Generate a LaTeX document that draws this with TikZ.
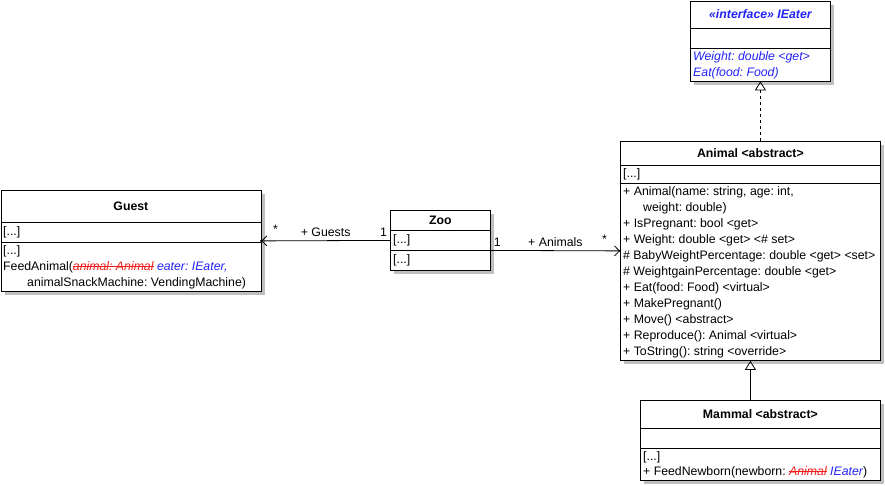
\documentclass[tikz,border=0pt]{standalone}
\usepackage{fontspec}
\setmainfont{Liberation Sans}
\usetikzlibrary{arrows.meta,shadows}
\definecolor{ifblue}{RGB}{35,35,245}
\definecolor{oldred}{RGB}{240,30,30}
\newcommand{\umlfont}{\fontsize{12.3}{16}\selectfont\frenchspacing}
\tikzset{
  cls/.style={draw, line width=0.8pt, fill=white, anchor=north west, inner sep=0pt,
    drop shadow={shadow xshift=4pt, shadow yshift=-4pt, fill=black!25, opacity=1}},
  row/.style={anchor=west, inner sep=0pt, font=\umlfont},
  title/.style={font=\umlfont\bfseries},
  lbl/.style={font=\umlfont, inner sep=0pt},
  assoc/.style={line width=0.8pt, -{Straight Barb[length=5pt,width=10pt]}},
  inherit/.style={line width=0.8pt, -{Triangle[open,length=9pt,width=11pt]}},
}
\newcommand{\old}[1]{{\color{oldred}\itshape\setbox0\hbox{#1}\rlap{\rule[0.3em]{\wd0}{0.7pt}}\box0}}
\newcommand{\new}[1]{{\color{ifblue}\itshape #1}}
\begin{document}
\begin{tikzpicture}[x=1pt,y=-1pt]
  \useasboundingbox (0,0) rectangle (885,485);
  % class boxes
  \foreach \n/\x/\y/\w/\h in {ieater/690/0.5/140/80, animal/620/141/260/219, guest/0.5/190/260/101, zoo/390/210/100/60, mammal/640/400/240/80}
  {
    \node[cls, minimum width=\w pt, minimum height=\h pt] (\n) at (\x,\y) {};
  }
  \foreach \n/\y in {ieater/28, ieater/48, animal/165, animal/183, guest/222, guest/242, zoo/230, zoo/250, mammal/428, mammal/448}
  {
    \draw[line width=0.8pt] (\n.west |- 0,\y) -- (\n.east |- 0,\y);
  }
  % titles
  \foreach \n/\y/\t in {animal/153/{Animal <abstract>}, guest/206/Guest, zoo/220/Zoo, mammal/414/{Mammal <abstract>}}
  {
    \node[title] (\n-title) at (\n.north |- 0,\y) {\t};
  }
  \node[title, font=\umlfont\bfseries\itshape, text=ifblue] (ieater-title) at (ieater.north |- 0,14) {«interface» IEater};
  % rows
  \node[row, text=ifblue, font=\umlfont\itshape] at (693,57) {Weight: double <get>};
  \node[row, text=ifblue, font=\umlfont\itshape] at (693,73) {Eat(food: Food)};
  \node[row] at (623,174) {[...]};
  \foreach \t [count=\i] in {{+ Animal(name: string, age: int,}, {\hspace{20pt}weight: double)}, {+ IsPregnant: bool <get>}, {+ Weight: double <get> <\# set>}, {\# BabyWeightPercentage: double <get> <set>}, {\# WeightgainPercentage: double <get>}, {+ Eat(food: Food) <virtual>}, {+ MakePregnant()}, {+ Move() <abstract>}, {+ Reproduce(): Animal <virtual>}, {+ ToString(): string <override>}}
  {
    \node[row] at (623,176+16*\i) {\t};
  }
  \node[row] at (3,232) {[...]};
  \node[row] at (3,251) {[...]};
  \node[row] at (3,267) {FeedAnimal(\old{animal: Animal} \new{eater: IEater,}};
  \node[row] at (27,283) {animalSnackMachine: VendingMachine)};
  \node[row] at (393,240) {[...]};
  \node[row] at (393,260) {[...]};
  \node[row] at (643,457) {[...]};
  \node[row] at (643,472) {+ FeedNewborn(newborn: \old{Animal} \new{IEater})};
  % connectors
  \draw[assoc] (zoo.west) -- (guest.east)
    node[lbl, pos=0.05, above=4pt] {1}
    node[lbl, pos=0.5, above=4pt] {+ Guests}
    node[lbl, pos=0.89, above=7pt] {*};
  \fill (guest.east) circle (1.3pt);
  \draw[assoc] ([yshift=-10pt]zoo.east) -- (animal.west)
    node[lbl, pos=0.05, above=4pt] {1}
    node[lbl, pos=0.5, above=4pt] {+ Animals}
    node[lbl, pos=0.88, above=7pt] {*};
  \fill (animal.west) circle (1.3pt);
  \draw[inherit, dashed] (ieater.south |- animal.north) -- (ieater.south);
  \draw[inherit] (animal.south |- mammal.north) -- (animal.south);
\end{tikzpicture}
\end{document}
